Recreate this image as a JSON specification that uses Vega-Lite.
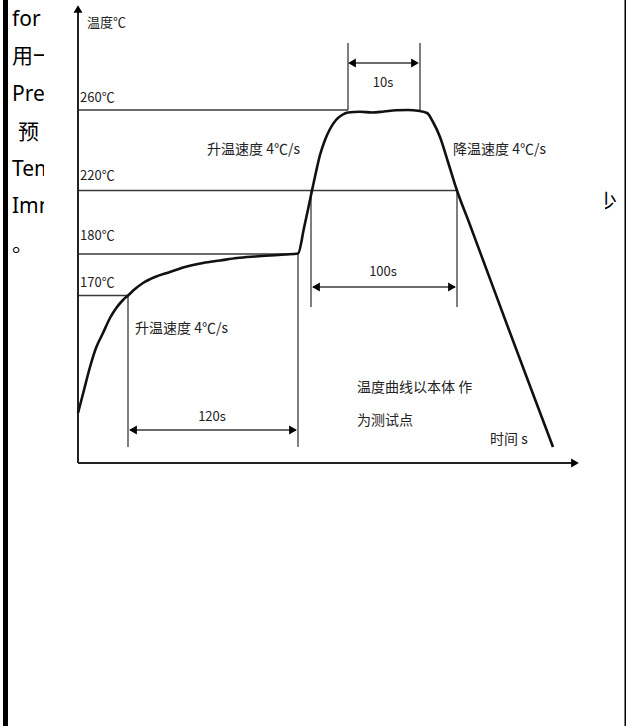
{
  "$schema": "https://vega.github.io/schema/vega-lite/v6.json",
  "width": 626,
  "height": 726,
  "padding": 0,
  "autosize": {"type": "fit", "contains": "padding"},
  "background": "white",
  "config": {"view": {"stroke": null}},
  "datasets": {
    "borders": [
      {"u": 3, "v": 0, "u2": 8, "v2": 726},
      {"u": 624.5, "v": 0, "u2": 626, "v2": 726}
    ],
    "pagetext": [
      {"u": 12, "v": 20, "t": "for"},
      {"u": 12, "v": 57, "t": "用一"},
      {"u": 12, "v": 95, "t": "Pre"},
      {"u": 18, "v": 133, "t": "预"},
      {"u": 12, "v": 170, "t": "Tem"},
      {"u": 12, "v": 207, "t": "Imm"},
      {"u": 12, "v": 245, "t": "。"},
      {"u": 596, "v": 203, "t": "少"}
    ],
    "cover": [
      {"u": 44, "v": 0, "u2": 605, "v2": 480}
    ],
    "guides": [
      {"u": 78, "v": 110, "u2": 348, "v2": 110},
      {"u": 78, "v": 190.5, "u2": 457, "v2": 190.5},
      {"u": 78, "v": 254, "u2": 298, "v2": 254},
      {"u": 78, "v": 295.5, "u2": 128, "v2": 295.5},
      {"u": 348, "v": 43, "u2": 348, "v2": 110},
      {"u": 420, "v": 43, "u2": 420, "v2": 110},
      {"u": 311, "v": 190.5, "u2": 311, "v2": 307},
      {"u": 457, "v": 190.5, "u2": 457, "v2": 307},
      {"u": 128, "v": 295.5, "u2": 128, "v2": 447},
      {"u": 298, "v": 254, "u2": 298, "v2": 447},
      {"u": 350, "v": 63, "u2": 416, "v2": 63},
      {"u": 313, "v": 287, "u2": 455, "v2": 287},
      {"u": 130, "v": 430, "u2": 296, "v2": 430}
    ],
    "axes": [
      {"u": 78, "v": 8, "u2": 78, "v2": 463},
      {"u": 78, "v": 463, "u2": 574, "v2": 463}
    ],
    "arrows": [
      {"u": 78, "v": 9, "dir": "up"},
      {"u": 575, "v": 463, "dir": "right"},
      {"u": 352, "v": 63, "dir": "left"},
      {"u": 415, "v": 63, "dir": "right"},
      {"u": 316, "v": 287, "dir": "left"},
      {"u": 452, "v": 287, "dir": "right"},
      {"u": 133, "v": 430, "dir": "left"},
      {"u": 293, "v": 430, "dir": "right"}
    ],
    "curve": [
      {"i": 1, "u": 78, "v": 413},
      {"i": 2, "u": 84, "v": 390},
      {"i": 3, "u": 90, "v": 367},
      {"i": 4, "u": 96, "v": 348},
      {"i": 5, "u": 103, "v": 333},
      {"i": 6, "u": 110, "v": 318},
      {"i": 7, "u": 117, "v": 307},
      {"i": 8, "u": 123, "v": 300},
      {"i": 9, "u": 128, "v": 295.5},
      {"i": 10, "u": 135, "v": 289},
      {"i": 11, "u": 143, "v": 283},
      {"i": 12, "u": 155, "v": 277},
      {"i": 13, "u": 170, "v": 272},
      {"i": 14, "u": 185, "v": 267},
      {"i": 15, "u": 203, "v": 263},
      {"i": 16, "u": 220, "v": 260.5},
      {"i": 17, "u": 237, "v": 258},
      {"i": 18, "u": 255, "v": 256.5},
      {"i": 19, "u": 270, "v": 255.5},
      {"i": 20, "u": 285, "v": 254.5},
      {"i": 21, "u": 298, "v": 253.5},
      {"i": 22, "u": 304, "v": 228},
      {"i": 23, "u": 310, "v": 200},
      {"i": 24, "u": 312, "v": 190.5},
      {"i": 25, "u": 316, "v": 172},
      {"i": 26, "u": 320, "v": 155},
      {"i": 27, "u": 325, "v": 140},
      {"i": 28, "u": 330, "v": 129},
      {"i": 29, "u": 336, "v": 120},
      {"i": 30, "u": 342, "v": 115},
      {"i": 31, "u": 348, "v": 112.5},
      {"i": 32, "u": 360, "v": 111.8},
      {"i": 33, "u": 372, "v": 112.5},
      {"i": 34, "u": 384, "v": 111.5},
      {"i": 35, "u": 396, "v": 110.3},
      {"i": 36, "u": 408, "v": 110},
      {"i": 37, "u": 418, "v": 110.8},
      {"i": 38, "u": 427, "v": 113},
      {"i": 39, "u": 433, "v": 122},
      {"i": 40, "u": 440, "v": 137},
      {"i": 41, "u": 448, "v": 162},
      {"i": 42, "u": 457, "v": 190.5},
      {"i": 43, "u": 470, "v": 225},
      {"i": 44, "u": 483, "v": 260},
      {"i": 45, "u": 509, "v": 330},
      {"i": 46, "u": 530, "v": 386},
      {"i": 47, "u": 553, "v": 447}
    ],
    "ticklabels": [
      {"u": 87, "v": 23, "t": "温度℃"},
      {"u": 80, "v": 98, "t": "260℃"},
      {"u": 80, "v": 176, "t": "220℃"},
      {"u": 80, "v": 236, "t": "180℃"},
      {"u": 80, "v": 283, "t": "170℃"}
    ],
    "durations": [
      {"u": 383, "v": 83, "t": "10s"},
      {"u": 383, "v": 272, "t": "100s"},
      {"u": 212, "v": 417, "t": "120s"}
    ],
    "notes": [
      {"u": 207, "v": 150, "t": "升温速度 4℃/s"},
      {"u": 453, "v": 150, "t": "降温速度 4℃/s"},
      {"u": 135, "v": 329, "t": "升温速度 4℃/s"},
      {"u": 357, "v": 388, "t": "温度曲线以本体 作"},
      {"u": 357, "v": 421, "t": "为测试点"},
      {"u": 490, "v": 440, "t": "时间 s"}
    ]
  },
  "encoding": {
    "x": {"field": "u", "type": "quantitative", "scale": {"domain": [0, 626], "nice": false, "zero": false}, "axis": null},
    "y": {"field": "v", "type": "quantitative", "scale": {"domain": [0, 726], "nice": false, "zero": false, "reverse": true}, "axis": null}
  },
  "layer": [
    {
      "data": {"name": "borders"},
      "mark": {"type": "rect", "color": "black"},
      "encoding": {"x2": {"field": "u2"}, "y2": {"field": "v2"}}
    },
    {
      "data": {"name": "pagetext"},
      "mark": {"type": "text", "align": "left", "baseline": "middle", "font": "Noto Sans, Noto Sans CJK SC", "fontSize": 21, "color": "black"},
      "encoding": {"text": {"field": "t"}}
    },
    {
      "data": {"name": "cover"},
      "mark": {"type": "rect", "color": "white"},
      "encoding": {"x2": {"field": "u2"}, "y2": {"field": "v2"}}
    },
    {
      "data": {"name": "guides"},
      "mark": {"type": "rule", "color": "#3a3a3a", "strokeWidth": 1.3},
      "encoding": {"x2": {"field": "u2"}, "y2": {"field": "v2"}}
    },
    {
      "data": {"name": "axes"},
      "mark": {"type": "rule", "color": "#222222", "strokeWidth": 2},
      "encoding": {"x2": {"field": "u2"}, "y2": {"field": "v2"}}
    },
    {
      "data": {"name": "arrows"},
      "mark": {"type": "point", "filled": true, "color": "black", "opacity": 1, "size": 80},
      "encoding": {
        "shape": {"field": "dir", "type": "nominal", "scale": {"domain": ["left", "right", "up"], "range": ["triangle-left", "triangle-right", "triangle-up"]}, "legend": null}
      }
    },
    {
      "data": {"name": "curve"},
      "mark": {"type": "line", "color": "#111111", "strokeWidth": 2.6, "interpolate": "monotone"},
      "encoding": {"order": {"field": "i", "type": "quantitative"}}
    },
    {
      "data": {"name": "ticklabels"},
      "mark": {"type": "text", "align": "left", "baseline": "middle", "font": "Noto Sans CJK SC", "fontSize": 13, "color": "#222222"},
      "encoding": {"text": {"field": "t"}}
    },
    {
      "data": {"name": "durations"},
      "mark": {"type": "text", "align": "center", "baseline": "middle", "font": "Noto Sans CJK SC", "fontSize": 13, "color": "#222222"},
      "encoding": {"text": {"field": "t"}}
    },
    {
      "data": {"name": "notes"},
      "mark": {"type": "text", "align": "left", "baseline": "middle", "font": "Noto Sans CJK SC", "fontSize": 14, "color": "#222222"},
      "encoding": {"text": {"field": "t"}}
    }
  ]
}
